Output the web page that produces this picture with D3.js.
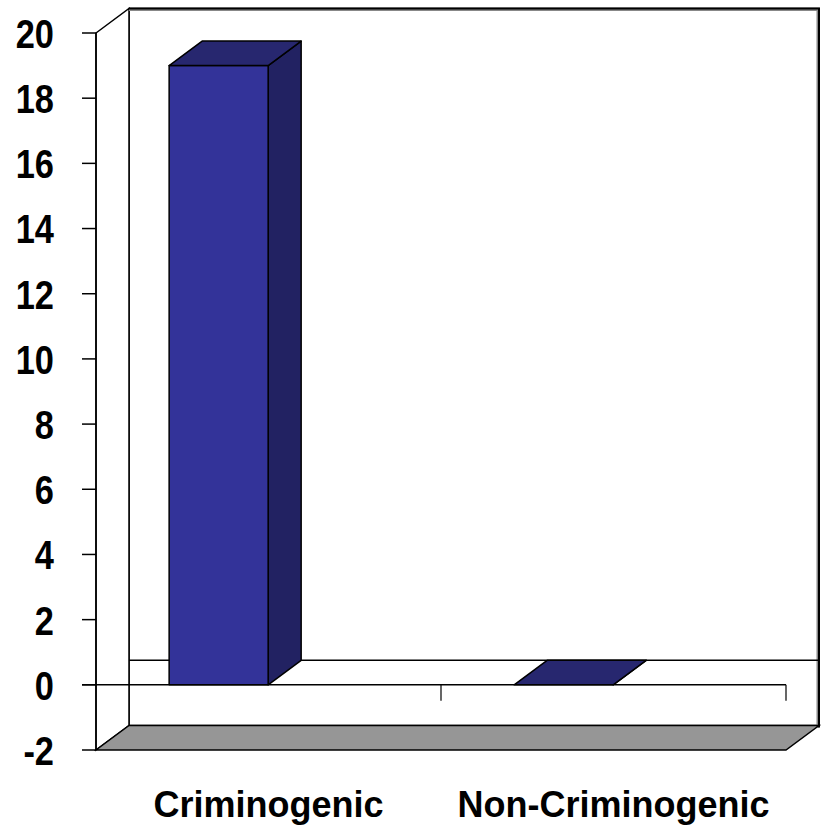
<!DOCTYPE html>
<html>
<head>
<meta charset="utf-8">
<script src="https://cdn.jsdelivr.net/npm/d3@7"></script>
<style>
  html, body { margin: 0; padding: 0; background: #fff; }
  svg { display: block; }
  text { font-family: "Liberation Sans", Arial, sans-serif; font-weight: bold; fill: #000; }
</style>
</head>
<body>
<svg id="chart" width="823" height="826"></svg>
<script>
// Chart data
const categories = ["Criminogenic", "Non-Criminogenic"];
const values = [19, 0];
const yTicks = [-2, 0, 2, 4, 6, 8, 10, 12, 14, 16, 18, 20];

const svg = d3.select("#chart");

// Front-plane scales
const y = d3.scaleLinear().domain([-2, 20]).range([750, 33]);
const x = d3.scaleBand().domain(categories).range([96, 786]).padding(0);

// Depth offset for the 3D look
const dx = 33, dy = -24.5;

const x0 = x.range()[0], x1 = x.range()[1];
const yMin = y(-2), yMax = y(20);

const colors = { front: "#333399", top: "#27276f", side: "#222262", floor: "#969696" };

// Back wall
svg.append("rect")
  .attr("x", x0 + dx).attr("y", yMax + dy)
  .attr("width", x1 - x0).attr("height", yMin - yMax)
  .attr("fill", "#fff").attr("stroke", "#000").attr("stroke-width", 1.5);

// Left side wall
svg.append("polygon")
  .attr("points", [[x0, yMax], [x0 + dx, yMax + dy], [x0 + dx, yMin + dy], [x0, yMin]].join(" "))
  .attr("fill", "#fff").attr("stroke", "#000").attr("stroke-width", 1.5);

// Heavier top and right edges of the back wall
svg.append("path")
  .attr("d", `M${x0 + dx},${yMax + dy + 1}H${x1 + dx - 1}V${yMin + dy + 2}`)
  .attr("fill", "none").attr("stroke", "#888").attr("stroke-width", 3);
svg.append("path")
  .attr("d", `M${x0 + dx},${yMax + dy}H${x1 + dx}V${yMin + dy + 2}`)
  .attr("fill", "none").attr("stroke", "#000").attr("stroke-width", 2);

// Floor
svg.append("polygon")
  .attr("points", [[x0, yMin], [x1, yMin], [x1 + dx, yMin + dy], [x0 + dx, yMin + dy]].join(" "))
  .attr("fill", colors.floor).attr("stroke", "#000").attr("stroke-width", 1.5);

// Zero line on the back wall
svg.append("line")
  .attr("x1", x0 + dx).attr("x2", x1 + dx)
  .attr("y1", y(0) + dy).attr("y2", y(0) + dy)
  .attr("stroke", "#000").attr("stroke-width", 1.5);

// Category axis along zero on the front plane
const xAxis = svg.append("g");
xAxis.append("line")
  .attr("x1", x0 - 14).attr("x2", x1)
  .attr("y1", y(0)).attr("y2", y(0))
  .attr("stroke", "#000").attr("stroke-width", 1.5);
xAxis.selectAll("line.tick")
  .data(categories)
  .join("line")
  .attr("class", "tick")
  .attr("x1", d => x(d) + x.bandwidth()).attr("x2", d => x(d) + x.bandwidth())
  .attr("y1", y(0)).attr("y2", y(0) + 16)
  .attr("stroke", "#000").attr("stroke-width", 1.2);

// Value axis
const yAxis = svg.append("g");
yAxis.append("line")
  .attr("x1", x0).attr("x2", x0)
  .attr("y1", yMax).attr("y2", yMin)
  .attr("stroke", "#000").attr("stroke-width", 1.5);
yAxis.selectAll("line.tick")
  .data(yTicks)
  .join("line")
  .attr("class", "tick")
  .attr("x1", x0 - 14).attr("x2", x0)
  .attr("y1", d => y(d)).attr("y2", d => y(d))
  .attr("stroke", "#000").attr("stroke-width", 1.5);
yAxis.selectAll("text")
  .data(yTicks)
  .join("text")
  .attr("text-anchor", "end")
  .attr("dominant-baseline", "central")
  .attr("font-size", 40)
  .attr("transform", d => `translate(54,${y(d) + 1}) scale(0.86,1)`)
  .text(d => d);

// Bars
const barLeft = d => x(d) + x.bandwidth() * 0.212;
const barW = x.bandwidth() * 0.287;
const bars = svg.append("g")
  .selectAll("g")
  .data(categories.map((c, i) => ({ c, v: values[i] })))
  .join("g")
  .attr("stroke", "#000").attr("stroke-width", 1.5).attr("stroke-linejoin", "round");

bars.append("polygon")
  .attr("fill", colors.side)
  .attr("points", d => {
    const l = barLeft(d.c) + barW, t = y(d.v), b = y(0);
    return [[l, t], [l + dx, t + dy], [l + dx, b + dy], [l, b]].join(" ");
  });
bars.append("rect")
  .attr("fill", colors.front)
  .attr("x", d => barLeft(d.c))
  .attr("y", d => y(Math.max(0, d.v)))
  .attr("width", barW)
  .attr("height", d => Math.abs(y(d.v) - y(0)));
bars.append("polygon")
  .attr("fill", colors.top)
  .attr("points", d => {
    const l = barLeft(d.c), t = y(d.v);
    return [[l, t], [l + barW, t], [l + barW + dx, t + dy], [l + dx, t + dy]].join(" ");
  });

// Category labels
svg.append("g")
  .selectAll("text")
  .data(categories)
  .join("text")
  .attr("x", d => x(d) + x.bandwidth() / 2)
  .attr("y", 817)
  .attr("text-anchor", "middle")
  .attr("font-size", 36)
  .text(d => d);
</script>
</body>
</html>
